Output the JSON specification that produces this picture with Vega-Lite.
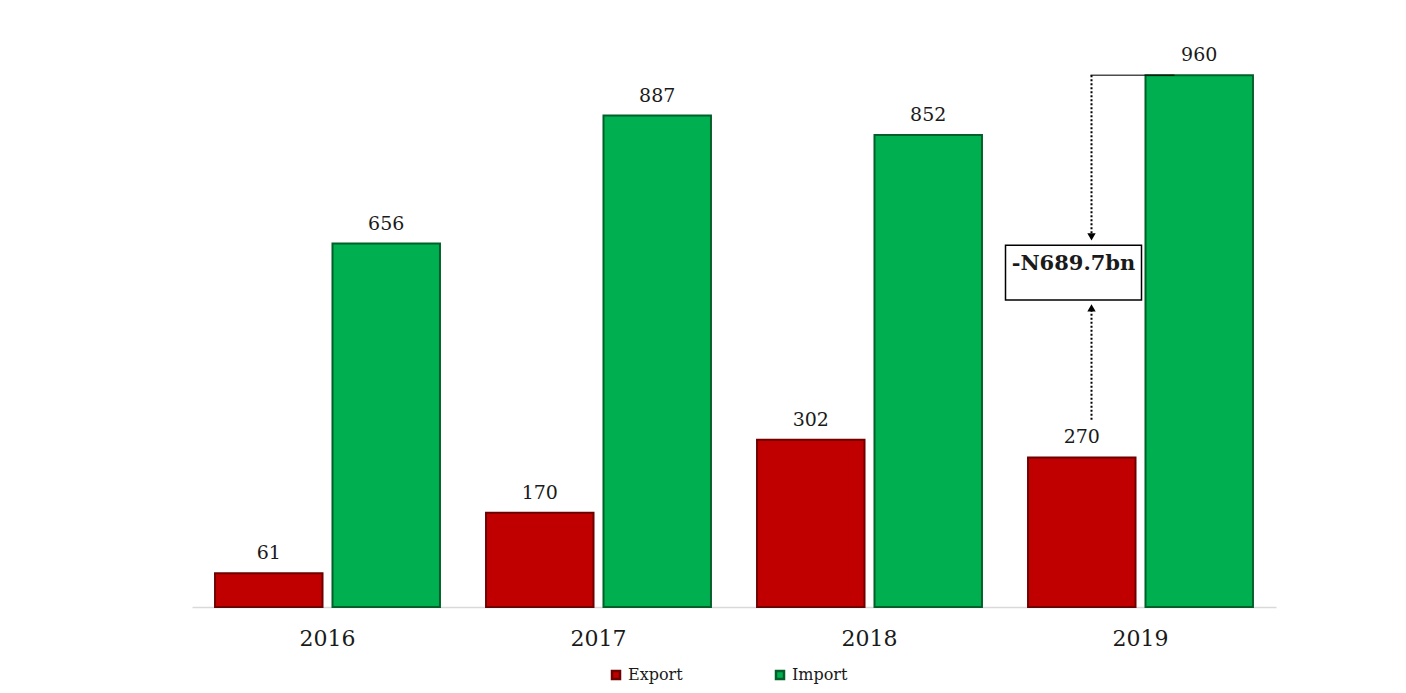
{
  "$schema": "https://vega.github.io/schema/vega-lite/v6.json",
  "autosize": {"type": "none"},
  "width": 1084,
  "height": 554,
  "padding": {"left": 192, "top": 53, "right": 130, "bottom": 86},
  "background": "white",
  "config": {"view": {"stroke": null}, "font": "DejaVu Serif"},
  "datasets": {
    "trade": [
      {"Year": "2016", "Type": "Export", "Value": 61},
      {"Year": "2016", "Type": "Import", "Value": 656},
      {"Year": "2017", "Type": "Export", "Value": 170},
      {"Year": "2017", "Type": "Import", "Value": 887},
      {"Year": "2018", "Type": "Export", "Value": 302},
      {"Year": "2018", "Type": "Import", "Value": 852},
      {"Year": "2019", "Type": "Export", "Value": 270},
      {"Year": "2019", "Type": "Import", "Value": 960}
    ],
    "gap": [
      {"Year": "2019", "Import": 960, "LowStart": 338, "ArrowDown": 668, "ArrowUp": 540, "BoxTop": 653, "BoxBottom": 554, "LabelY": 620, "Label": "-N689.7bn"}
    ]
  },
  "encoding": {
    "x": {
      "field": "Year", "type": "nominal", "sort": ["2016", "2017", "2018", "2019"],
      "scale": {"paddingInner": 0.17, "paddingOuter": 0.085},
      "axis": {"title": null, "labelAngle": 0, "ticks": false, "domainColor": "#d9d9d9", "domainWidth": 1.5,
               "labelFont": "DejaVu Serif", "labelFontSize": 22, "labelColor": "#1a1a1a", "labelPadding": 21}
    }
  },
  "layer": [
    {
      "data": {"name": "trade"},
      "mark": {"type": "bar", "strokeWidth": 2},
      "encoding": {
        "xOffset": {"field": "Type", "type": "nominal", "sort": ["Export", "Import"],
                    "scale": {"paddingInner": 0.085, "paddingOuter": 0}},
        "y": {"field": "Value", "type": "quantitative", "scale": {"domain": [0, 1000], "nice": false}, "axis": null},
        "color": {
          "field": "Type", "type": "nominal",
          "scale": {"domain": ["Export", "Import"], "range": ["#C00000", "#00B050"]},
          "legend": {"title": null, "orient": "none", "legendX": 416, "legendY": 614, "direction": "horizontal", "symbolType": "square",
                     "symbolSize": 64, "symbolStrokeColor": "#1a1a1a", "symbolStrokeWidth": 2.5,
                     "labelFont": "DejaVu Serif", "labelFontSize": 16, "labelColor": "#1a1a1a",
                     "columnPadding": 88}
        },
        "stroke": {
          "field": "Type", "type": "nominal",
          "scale": {"domain": ["Export", "Import"], "range": ["#6e0000", "#00602a"]},
          "legend": null
        }
      }
    },
    {
      "data": {"name": "trade"},
      "mark": {"type": "text", "baseline": "bottom", "dy": -10, "fontSize": 19, "color": "#1a1a1a", "font": "DejaVu Serif"},
      "encoding": {
        "xOffset": {"field": "Type", "type": "nominal", "sort": ["Export", "Import"]},
        "y": {"field": "Value", "type": "quantitative"},
        "text": {"field": "Value", "type": "quantitative"}
      }
    },
    {
      "data": {"name": "gap"},
      "mark": {"type": "tick", "color": "#000000", "thickness": 1.5, "size": 84, "xOffset": -8},
      "encoding": {
        "y": {"field": "Import", "type": "quantitative"}
      }
    },
    {
      "data": {"name": "gap"},
      "mark": {"type": "rule", "color": "#000000", "strokeWidth": 2, "strokeDash": [2, 2], "xOffset": -49},
      "encoding": {
        "y": {"field": "Import", "type": "quantitative"},
        "y2": {"field": "ArrowDown"}
      }
    },
    {
      "data": {"name": "gap"},
      "mark": {"type": "rule", "color": "#000000", "strokeWidth": 2, "strokeDash": [2, 2], "xOffset": -49},
      "encoding": {
        "y": {"field": "LowStart", "type": "quantitative"},
        "y2": {"field": "ArrowUp"}
      }
    },
    {
      "data": {"name": "gap"},
      "mark": {"type": "point", "shape": "triangle-down", "filled": true, "color": "#000000", "size": 70, "opacity": 1, "xOffset": -49},
      "encoding": {"y": {"field": "ArrowDown", "type": "quantitative"}}
    },
    {
      "data": {"name": "gap"},
      "mark": {"type": "point", "shape": "triangle-up", "filled": true, "color": "#000000", "size": 70, "opacity": 1, "xOffset": -49},
      "encoding": {"y": {"field": "ArrowUp", "type": "quantitative"}}
    },
    {
      "data": {"name": "gap"},
      "mark": {"type": "bar", "fill": "white", "stroke": "#000000", "strokeWidth": 1.5, "width": 136, "xOffset": -67},
      "encoding": {
        "y": {"field": "BoxTop", "type": "quantitative"},
        "y2": {"field": "BoxBottom"}
      }
    },
    {
      "data": {"name": "gap"},
      "mark": {"type": "text", "fontSize": 21, "fontWeight": "bold", "color": "#1a1a1a", "font": "DejaVu Serif", "xOffset": -67, "baseline": "middle"},
      "encoding": {
        "y": {"field": "LabelY", "type": "quantitative"},
        "text": {"field": "Label", "type": "nominal"}
      }
    }
  ]
}
